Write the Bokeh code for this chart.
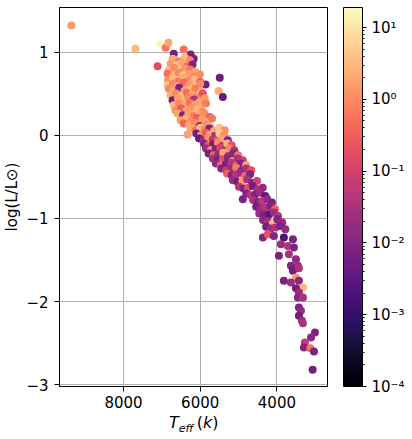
from bokeh.plotting import figure
from bokeh.models import LogColorMapper, ColorBar, FixedTicker, Range1d, ColumnDataSource, Div
from bokeh.layouts import column
from bokeh.palettes import Magma256
from bokeh.embed import file_html
from bokeh.resources import INLINE

FONT = "DejaVu Sans"

# ---- data (Teff [K], log L/Lsun, colour value) ----
teff_out = [9360, 7690, 7030, 6900, 6830, 6690, 6430, 6250, 6170, 7110, 5490, 5520, 5410, 6590, 6640, 6330, 5860]
logl_out = [1.32, 1.04, 1.09, 1.05, 1.11, 0.98, 1.03, 0.97, 0.92, 0.83, 0.69, 0.53, 0.46, 0.38, 0.31, 0.01, 0.61]
c_out = [1.5, 3, 15, 0.6, 2, 0.006, 0.5, 0.008, 0.007, 0.15, 0.005, 2.5, 0.004, 0.006, 1.5, 1.8, 0.006]

teff_up = [6720, 6560, 6400, 6270,
           6770, 6620, 6480, 6340, 6200,
           6820, 6680, 6540, 6400, 6260, 6130,
           6850, 6710, 6570, 6430, 6290, 6150, 6010,
           6840, 6700, 6560, 6420, 6280, 6140, 6000,
           6850, 6710, 6570, 6430, 6290, 6150, 6000,
           6820, 6690, 6550, 6410, 6270, 6130, 5980,
           6770, 6630, 6490, 6350, 6210, 6070, 5930,
           6720, 6580, 6440, 6300, 6160, 6020, 5880,
           6690, 6550, 6410, 6270, 6130, 5990, 5850,
           6640, 6500, 6360, 6220, 6080, 5940,
           6590, 6450, 6310, 6170, 6030, 5890, 5750,
           6510, 6370, 6230, 6090, 5950, 5810, 5690,
           6430, 6290, 6150, 6010, 5870, 5730]
logl_up = [0.92, 0.89, 0.93, 0.90,
           0.86, 0.84, 0.87, 0.83, 0.85,
           0.78, 0.81, 0.77, 0.80, 0.79, 0.76,
           0.74, 0.71, 0.75, 0.72, 0.74, 0.70, 0.73,
           0.66, 0.68, 0.65, 0.69, 0.66, 0.67, 0.64,
           0.60, 0.62, 0.59, 0.63, 0.61, 0.58, 0.62,
           0.56, 0.54, 0.57, 0.53, 0.55, 0.56, 0.52,
           0.48, 0.50, 0.47, 0.51, 0.49, 0.46, 0.50,
           0.42, 0.44, 0.41, 0.45, 0.43, 0.40, 0.44,
           0.36, 0.38, 0.35, 0.39, 0.37, 0.34, 0.38,
           0.30, 0.32, 0.29, 0.33, 0.31, 0.28,
           0.26, 0.24, 0.27, 0.23, 0.25, 0.26, 0.22,
           0.18, 0.20, 0.17, 0.21, 0.19, 0.16, 0.20,
           0.14, 0.12, 0.15, 0.11, 0.13, 0.10]
c_up = [2, 0.8, 3, 1,
        1.5, 4, 2, 0.5, 0.009,
        3, 1, 2.5, 1.2, 0.6, 2,
        0.5, 2, 1, 5, 1.5, 0.8, 1,
        1.2, 3, 0.6, 2, 1, 3, 0.3,
        4, 1, 2, 0.4, 1.5, 3, 1,
        1, 2, 0.008, 1.5, 3, 0.7, 2,
        2, 1, 3, 0.5, 2, 1, 0.2,
        0.006, 1.5, 2.5, 1, 0.03, 2, 1.5,
        3, 1, 2, 0.5, 1.5, 2, 0.7,
        1, 0.3, 2, 1.2, 3, 0.8,
        2, 0.01, 1.5, 0.7, 2, 1, 0.4,
        1.5, 2.5, 1, 0.3, 1.5, 2, 0.6,
        0.4, 2, 1, 0.008, 1.2, 3]

teff_mid = [6250, 6120, 6000, 5880, 5760, 5640, 5500, 5360,
            6100, 5980, 5860, 5740, 5620, 5500, 5380,
            6030, 5910, 5790, 5670, 5550, 5420, 5280,
            5900, 5780, 5660, 5540, 5420, 5300, 5180,
            5850, 5720, 5600, 5480, 5360, 5240, 5110,
            5780, 5650, 5520, 5400, 5270, 5140, 5010,
            5670, 5540, 5410, 5280, 5150, 5020, 4890,
            5590, 5460, 5330, 5200, 5070, 4940, 4800,
            5450, 5320, 5190, 5060, 4930, 4800, 4670]
logl_mid = [0.08, 0.06, 0.09, 0.07, 0.08, 0.05, 0.09, 0.06,
            0.02, 0.00, 0.03, 0.01, -0.01, 0.02, 0.00,
            -0.04, -0.06, -0.03, -0.05, -0.07, -0.04, -0.06,
            -0.10, -0.12, -0.11, -0.09, -0.13, -0.10, -0.12,
            -0.16, -0.18, -0.17, -0.15, -0.19, -0.16, -0.18,
            -0.22, -0.24, -0.23, -0.21, -0.25, -0.22, -0.24,
            -0.28, -0.30, -0.29, -0.27, -0.31, -0.28, -0.30,
            -0.34, -0.36, -0.35, -0.33, -0.37, -0.34, -0.36,
            -0.40, -0.42, -0.41, -0.39, -0.43, -0.40, -0.42]
c_mid = [2, 0.5, 3, 1, 0.01, 2, 4, 1.2,
         0.006, 1.5, 0.3, 2, 0.02, 5, 1,
         0.004, 0.02, 1.2, 0.05, 0.4, 2, 0.01,
         0.01, 0.3, 0.006, 1, 0.03, 2.5, 0.2,
         0.02, 1.5, 0.008, 0.1, 0.02, 1, 0.04,
         0.007, 0.4, 0.015, 2, 0.05, 0.01, 0.6,
         0.03, 0.006, 0.2, 0.012, 1.2, 0.03, 0.1,
         0.015, 0.5, 0.008, 0.04, 0.3, 0.01, 2,
         0.01, 0.06, 0.02, 0.7, 0.01, 0.03, 0.2]

teff_low = [5300, 5180, 5060, 4950, 4830, 4700,
            5150, 5030, 4900, 4780, 4650, 4520,
            4990, 4870, 4750, 4630, 4500, 4370,
            4800, 4680, 4560, 4440, 4300,
            4620, 4500, 4380, 4250, 4130,
            4540, 4420, 4300, 4170, 4050,
            4460, 4330, 4200, 4080, 3970,
            4360, 4230, 4105, 3990, 3860,
            4280, 4160, 4040, 3920, 3780,
            4889, 4366]
logl_low = [-0.46, -0.48, -0.47, -0.45, -0.49, -0.47,
            -0.54, -0.56, -0.55, -0.53, -0.57, -0.55,
            -0.62, -0.64, -0.63, -0.61, -0.65, -0.63,
            -0.70, -0.72, -0.71, -0.69, -0.73,
            -0.78, -0.80, -0.79, -0.77, -0.81,
            -0.86, -0.88, -0.87, -0.85, -0.89,
            -0.94, -0.96, -0.95, -0.93, -0.97,
            -1.02, -1.04, -1.06, -1.01, -1.05,
            -1.10, -1.12, -1.11, -1.09, -1.13,
            -0.77, -1.23]
c_low = [0.3, 0.01, 0.05, 0.02, 0.4, 0.008,
         0.02, 0.006, 1.5, 0.03, 0.012, 0.1,
         0.04, 0.01, 0.2, 0.006, 0.03, 0.015,
         0.012, 0.05, 0.008, 0.02, 0.004,
         0.03, 0.01, 0.06, 0.015, 0.008,
         0.006, 0.02, 0.04, 0.01, 0.3,
         0.02, 0.008, 0.003, 0.02, 0.05,
         0.012, 0.03, 3, 0.01, 0.02,
         0.006, 0.02, 0.04, 0.008, 0.015,
         0.008, 0.01]

teff_tail = [4236, 4080, 3818, 3582, 3896, 3713, 3556, 3948, 3687, 3504,
             3635, 3452, 3582, 3426, 3504, 3818, 3635, 3426, 3321, 3504,
             3426, 3452, 3321, 3426, 3373, 3426, 3347, 3321,
             3007, 3110, 3270, 3295, 3130, 3033, 3067]
logl_tail = [-1.19, -1.21, -1.23, -1.25, -1.31, -1.33, -1.35, -1.45, -1.43, -1.49,
             -1.57, -1.57, -1.63, -1.60, -1.71, -1.75, -1.77, -1.75, -1.83, -1.84,
             -1.89, -1.95, -1.95, -2.07, -2.11, -2.17, -2.23, -2.26,
             -2.37, -2.43, -2.49, -2.55, -2.56, -2.60, -2.82]
c_tail = [0.2, 0.01, 0.002, 0.008, 0.02, 0.04, 0.01, 0.008, 0.03, 0.015,
          0.01, 0.02, 0.006, 0.03, 1.5, 0.008, 0.02, 0.012, 3, 0.006,
          0.02, 0.01, 0.03, 0.008, 0.015, 0.006, 0.02, 0.03,
          0.008, 0.012, 0.06, 0.01, 0.5, 0.008, 0.006]

x_ticks = [4000, 6000, 8000]
y_ticks = [-3, -2, -1, 0, 1]
y_tick_labels = ["\u22123", "\u22122", "\u22121", "0", "1"]
cb_ticks = [1e-4, 1e-3, 1e-2, 1e-1, 1e0, 1e1]
cb_tick_labels = ["10\u207b\u2074", "10\u207b\u00b3", "10\u207b\u00b2", "10\u207b\u00b9", "10\u2070", "10\u00b9"]
c_low_lim, c_high_lim = 1e-4, 19

teff = teff_out + teff_up + teff_mid + teff_low + teff_tail
logl = logl_out + logl_up + logl_mid + logl_low + logl_tail
cval = c_out + c_up + c_mid + c_low + c_tail
src = ColumnDataSource(dict(teff=teff, logl=logl, c=cval))

mapper = LogColorMapper(palette=Magma256, low=c_low_lim, high=c_high_lim)

p = figure(frame_width=268, frame_height=379,
           x_range=Range1d(9670, 2680), y_range=Range1d(-3.02, 1.535),
           output_backend="svg", toolbar_location=None,
           min_border_left=51, min_border_top=7, min_border_bottom=26, min_border_right=0)

p.scatter(x="teff", y="logl", source=src, size=8,
          fill_color={"field": "c", "transform": mapper}, line_color=None)

p.outline_line_color = "black"
p.outline_line_width = 1
p.outline_line_alpha = 1

p.xaxis.ticker = FixedTicker(ticks=x_ticks)
p.yaxis.ticker = FixedTicker(ticks=y_ticks)
p.yaxis.major_label_overrides = dict(zip(y_ticks, y_tick_labels))
p.xgrid.ticker = FixedTicker(ticks=x_ticks)
p.ygrid.ticker = FixedTicker(ticks=y_ticks)
for g in (p.xgrid, p.ygrid):
    g.grid_line_color = "#b0b0b0"
    g.grid_line_width = 1

for ax in (p.xaxis, p.yaxis):
    ax.axis_line_color = "black"
    ax.major_tick_line_color = "black"
    ax.major_tick_out = 5
    ax.major_tick_in = 0
    ax.minor_tick_line_color = None
    ax.major_label_text_font = FONT
    ax.major_label_text_font_size = "15px"
    ax.major_label_text_color = "black"
    ax.axis_label_text_font = FONT
    ax.axis_label_text_font_size = "15px"
    ax.axis_label_text_font_style = "normal"
    ax.axis_label_text_color = "black"

p.xaxis.major_label_standoff = 4
p.yaxis.major_label_standoff = 6
p.yaxis.axis_label = "log(L/L\u2299)"
p.yaxis.axis_label_standoff = 2

cb_minor = [m * 10.0 ** e for e in range(-4, 2) for m in range(2, 10) if m * 10.0 ** e <= c_high_lim]
cb = ColorBar(color_mapper=mapper,
              ticker=FixedTicker(ticks=cb_ticks, minor_ticks=cb_minor),
              major_label_overrides=dict(zip(cb_ticks, cb_tick_labels)),
              width=19, height=379, padding=0, location=(16, 0),
              major_tick_in=0, major_tick_out=4, minor_tick_in=0, minor_tick_out=2,
              major_tick_line_color="black", minor_tick_line_color="black",
              bar_line_color="black", label_standoff=5,
              major_label_text_font=FONT, major_label_text_font_size="15px",
              major_label_text_color="black",
              background_fill_alpha=0, border_line_color=None)
p.add_layout(cb, "right")

xlabel = Div(text=("<span style=\"font-family:'DejaVu Sans';font-size:16px;color:black;white-space:nowrap\">"
                   "<i>T</i><sub style=\"font-size:11px\"><i>eff</i></sub>&#8201;(<i>k</i>)</span>"),
             width=120, height=22, margin=(0, 0, 0, 169))

layout = column(p, xlabel, spacing=0)
open("out.html", "w").write(file_html(layout, INLINE))
